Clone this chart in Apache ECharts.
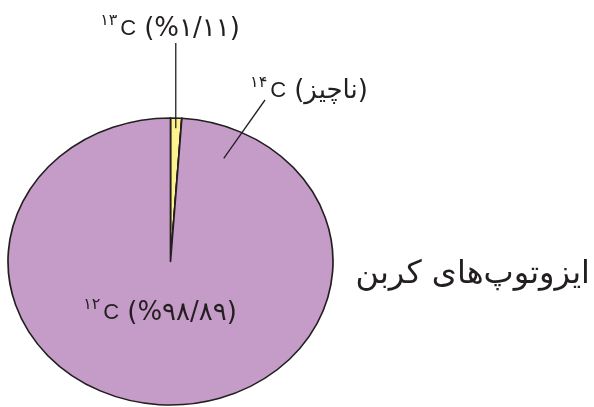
<!DOCTYPE html>
<html>
<head>
<meta charset="utf-8">
<script src="https://cdn.jsdelivr.net/npm/echarts@6/dist/echarts.min.js"></script>
<style>
  html, body { margin: 0; padding: 0; background: #ffffff; }
  #chart { width: 594px; height: 407px; }
</style>
</head>
<body>
<div id="chart"></div>
<script>
// Natural abundance of carbon isotopes (percent), drawn clockwise from 12 o'clock
const isotopes = ['C-13', 'C-14', 'C-12'];
const massNumbers = ['۱۳', '۱۴', '۱۲'];
const abundance = [1.11, 0, 98.89];
const traceWord = 'ناچیز';
const chartTitle = 'ایزوتوپ‌های کربن';

// Styling
const sliceColors = ['#fdf28c', '#fdf28c', '#c59cc8'];
const ink = '#231f20';
const LATIN = '"Liberation Sans", "DejaVu Sans", sans-serif';
const PERSIAN = '"DejaVu Sans", sans-serif';

// Elliptical pie geometry (px)
const PIE = { cx: 170.5, cy: 261.5, rx: 162.5, ry: 143.5 };

// Label placement per slice: anchor on the pie (angle clockwise from top in degrees,
// or null for the slice middle; radius as fraction), leader-line end and text centre.
const LABEL_LAYOUT = [
  { angle: null, rf: 0.93, lineTo: 'up', lineTop: 43, tx: 170, ty: 29 },
  { angle: 24.5, rf: 0.79, lineEnd: [265, 100], tx: 309, ty: 91 },
  { angle: null, rf: 0, noLine: true, tx: 160, ty: 313 }
];

const persianDigits = '۰۱۲۳۴۵۶۷۸۹';
function toPersian(v) {
  return String(v).replace('.', '/').replace(/[0-9]/g, d => persianDigits[+d]);
}
function labelText(i) {
  const v = abundance[i];
  const inner = v > 0 ? '%' + toPersian(v) : traceWord;
  return '{sup|' + massNumbers[i] + '}{el|C}{rest|(' + inner + ')}';
}

const total = abundance.reduce((a, b) => a + b, 0);

function renderItem(params, api) {
  const i = params.dataIndex;
  const value = api.value(0);
  let before = 0;
  for (let k = 0; k < i; k++) before += abundance[k];
  const a0 = before / total * Math.PI * 2;
  const a1 = a0 + value / total * Math.PI * 2;
  const { cx, cy, rx, ry } = PIE;
  const children = [];

  children.push({
    type: 'sector',
    shape: { cx: cx, cy: cy, r0: 0, r: rx, startAngle: a0 - Math.PI / 2, endAngle: a1 - Math.PI / 2, clockwise: true },
    originX: cx, originY: cy, scaleY: ry / rx,
    style: { fill: sliceColors[i], stroke: ink, lineWidth: 1.7, strokeNoScale: true, lineJoin: 'round' }
  });

  const L = LABEL_LAYOUT[i];
  const ang = L.angle == null ? (a0 + a1) / 2 : L.angle * Math.PI / 180;
  const ax = cx + rx * L.rf * Math.sin(ang);
  const ay = cy - ry * L.rf * Math.cos(ang);
  if (!L.noLine) {
    const end = L.lineTo === 'up' ? [ax, L.lineTop] : L.lineEnd;
    children.push({
      type: 'line', z2: 20,
      shape: { x1: ax, y1: ay, x2: end[0], y2: end[1] },
      style: { stroke: ink, lineWidth: 1.3 }
    });
  }
  children.push({
    type: 'text', z2: 30,
    x: L.tx, y: L.ty,
    style: {
      text: labelText(i),
      align: 'center', verticalAlign: 'middle',
      fill: ink,
      rich: {
        sup: { font: '16px ' + PERSIAN, fill: ink, verticalAlign: 'top', lineHeight: 32, padding: [0, 3, 0, 0] },
        el: { font: '22px ' + LATIN, fill: ink, lineHeight: 32, verticalAlign: 'middle' },
        rest: { font: '26px ' + PERSIAN, fill: ink, lineHeight: 32, verticalAlign: 'middle', padding: [0, 0, 0, 8] }
      }
    }
  });
  return { type: 'group', children: children };
}

const chart = echarts.init(document.getElementById('chart'), null, { renderer: 'canvas' });
chart.setOption({
  animation: false,
  backgroundColor: '#ffffff',
  series: [{
    type: 'custom',
    coordinateSystem: 'none',
    name: 'carbon isotopes',
    data: abundance.map((v, i) => ({ name: isotopes[i], value: [v, i] })),
    renderItem: renderItem
  }],
  graphic: [{
    type: 'text',
    right: 4,
    top: 259,
    style: { text: chartTitle, font: '32px ' + PERSIAN, fill: ink }
  }]
});
</script>
</body>
</html>
